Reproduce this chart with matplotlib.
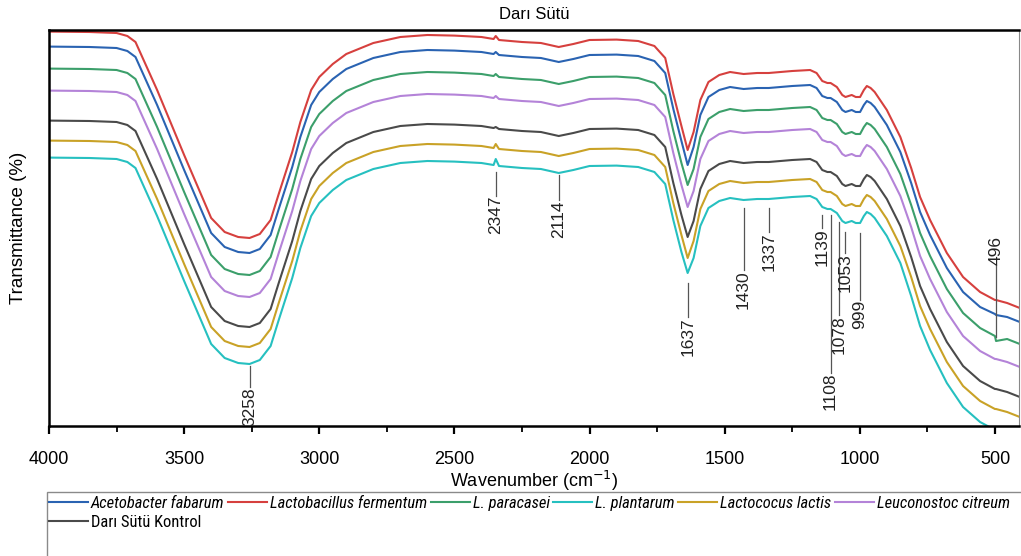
import matplotlib
matplotlib.use("Agg")
import matplotlib.pyplot as plt
from matplotlib import font_manager
from matplotlib.font_manager import FontProperties
from matplotlib.patches import Rectangle
from matplotlib.ticker import MultipleLocator

# FTIR spektrumları: dalga sayısı (cm-1) ve geçirgenlik (%, kaydırılmış)
wavenumber = [4000, 3850, 3750, 3710, 3680, 3600, 3500, 3400, 3350, 3300,
              3258, 3220, 3180, 3150, 3100, 3070, 3030, 3000, 2950, 2900,
              2800, 2700, 2600, 2500, 2400, 2355, 2347, 2335, 2250, 2180,
              2114, 2060, 2000, 1900, 1820, 1760, 1720, 1690, 1660, 1637,
              1615, 1590, 1560, 1520, 1480, 1430, 1380, 1337, 1250, 1184,
              1160, 1139, 1120, 1108, 1085, 1065, 1053, 1030, 1015, 999,
              985, 974, 960, 945, 900, 850, 810, 777, 740, 678,
              618, 555, 500, 496, 455, 408]

l_fermentum = [99.6, 99.5, 99.25, 98.5, 97, 85, 68.75, 53, 49.5, 48.25,
               48, 49, 52.5, 59, 69.5, 77, 85, 88.25, 91.5, 94,
               96.75, 98.25, 98.75, 98.6, 98.25, 97.75, 98.5, 97.5, 97, 96.75,
               95.75, 96.5, 97.5, 97.6, 97.25, 96, 93, 84, 76, 70,
               74.5, 82.5, 87, 88.75, 89.5, 89, 89.25, 89.25, 89.75, 90,
               89.25, 87.25, 86.75, 86.75, 85.75, 83.75, 83.25, 83.75, 83.25, 83.25,
               85, 86, 85.5, 84.5, 80, 73.25, 65.5, 58.25, 52.5, 44.25,
               38.25, 34.5, 32.5, 32.5, 31.75, 30.5]

a_fabarum = [95.85, 95.75, 95.5, 94.75, 93.25, 81.25, 65, 49.25, 45.75, 44.5,
             44.25, 45.25, 48.75, 55.25, 65.75, 73.25, 81.25, 84.5, 87.75, 90.25,
             93, 94.5, 95, 94.85, 94.5, 94, 94.5, 93.75, 93.25, 93,
             92, 92.75, 93.75, 93.85, 93.5, 92.25, 89.25, 80.25, 72.25, 66.25,
             70.75, 78.75, 83.25, 85, 85.75, 85.25, 85.5, 85.5, 86, 86.25,
             85.5, 83.5, 83, 83, 82, 80, 79.5, 80, 79.5, 79.5,
             81.25, 82.25, 81.75, 80.75, 76.25, 69.5, 61.75, 54.5, 48.75, 40.5,
             34.5, 30.75, 29, 28.75, 28.25, 27]

l_paracasei = [90.35, 90.25, 90, 89.25, 87.75, 75.75, 59.5, 43.75, 40.25, 39,
               38.75, 39.75, 43.25, 49.75, 60.25, 67.75, 75.75, 79, 82.25, 84.75,
               87.5, 89, 89.5, 89.35, 89, 88.5, 89, 88.25, 87.75, 87.5,
               86.5, 87.25, 88.25, 88.35, 88, 86.75, 83.75, 74.75, 66.75, 61.25,
               65.25, 73.25, 77.75, 79.5, 80.25, 79.75, 80, 80, 80.5, 80.75,
               80, 78, 77.5, 77.5, 76.5, 74.5, 74, 74.5, 74, 74,
               75.75, 76.75, 76.25, 75.25, 70.75, 64, 56.25, 49.25, 43.5, 35.25,
               29.25, 25.5, 23.5, 22.25, 22.75, 21.5]

l_citreum = [84.85, 84.75, 84.5, 83.75, 82.25, 70.25, 54, 38.25, 34.75, 33.5,
             33.25, 34.25, 37.75, 44.25, 54.75, 62.25, 70.25, 73.5, 76.75, 79.25,
             82, 83.5, 84, 83.85, 83.5, 83, 83.5, 82.75, 82.25, 82,
             81, 81.75, 82.75, 82.85, 82.5, 81.25, 78.25, 69.25, 61.25, 55.75,
             59.75, 67.75, 72.25, 74, 74.75, 74.25, 74.5, 74.5, 75, 75.25,
             74.5, 72.5, 72, 72, 71, 69, 68.5, 69, 68.5, 68.5,
             70.25, 71.25, 70.75, 69.75, 65.25, 58.5, 50.75, 43.5, 37.75, 29.5,
             23.5, 19.75, 17.75, 17.75, 17, 15.75]

kontrol = [77.35, 77.25, 77, 76.25, 74.75, 62.75, 46.5, 30.75, 27.25, 26,
           25.75, 26.75, 30.25, 36.75, 47.25, 54.75, 62.75, 66, 69.25, 71.75,
           74.5, 76, 76.5, 76.35, 76, 75.5, 75.75, 75.25, 74.75, 74.5,
           73.5, 74.25, 75.25, 75.35, 75, 73.75, 70.75, 61.75, 53.75, 48.25,
           52.25, 60.25, 64.75, 66.5, 67.25, 66.75, 67, 67, 67.5, 67.75,
           67, 65, 64.5, 64.5, 63.5, 61.5, 61, 61.5, 61, 61,
           62.75, 63.75, 63.25, 62.25, 57.75, 51, 43.25, 36, 30.25, 22,
           16, 12.25, 10.25, 10.25, 9.5, 8.25]

l_lactis = [72.35, 72.25, 72, 71.25, 69.75, 57.75, 41.5, 25.75, 22.25, 21,
            20.75, 21.75, 25.25, 31.75, 42.25, 49.75, 57.75, 61, 64.25, 66.75,
            69.5, 71, 71.5, 71.35, 71, 70.5, 71.5, 70.25, 69.75, 69.5,
            68.5, 69.25, 70.25, 70.35, 70, 68.75, 65.75, 56.75, 48.75, 43,
            47.25, 55.25, 59.75, 61.5, 62.25, 61.75, 62, 62, 62.5, 62.75,
            62, 60, 59.5, 59.5, 58.5, 56.5, 56, 56.5, 56, 56,
            57.75, 58.75, 58.25, 57.25, 52.75, 46, 38.25, 31, 25.25, 17,
            11, 7.25, 5.25, 5.25, 4.5, 3.25]

l_plantarum = [68.1, 68, 67.75, 67, 65.5, 53.5, 37.25, 21.5, 18, 16.75,
               16.5, 17.5, 21, 27.5, 38, 45.5, 53.5, 56.75, 60, 62.5,
               65.25, 66.75, 67.25, 67.1, 66.75, 66.25, 67.75, 66, 65.5, 65.25,
               64.25, 65, 66, 66.1, 65.75, 64.5, 61.5, 52.5, 44.5, 39.25,
               43, 51, 55.5, 57.25, 58, 57.5, 57.75, 57.75, 58.25, 58.5,
               57.75, 55.75, 55.25, 55.25, 54.25, 52.25, 51.75, 52.25, 51.75, 51.75,
               53.5, 54.5, 54, 53, 48.5, 41.75, 33.5, 26, 20, 11.75,
               5.75, 2, 0, 0, -0.75, -2]

# işaretlenen pikler
peaks = [3258, 2347, 2114, 1637, 1430, 1337, 1139, 1108, 1078, 1053, 999, 496]

W, H = 1021, 556
names = {f.name for f in font_manager.fontManager.ttflist}
plt.rcParams['font.family'] = ['Liberation Sans', 'DejaVu Sans']
narrow = [n for n in ('Liberation Sans Narrow', 'Roboto Condensed',
                      'Open Sans Condensed', 'DejaVu Sans Condensed') if n in names]
narrow = narrow + ['Liberation Sans', 'DejaVu Sans']

fig = plt.figure(figsize=(W / 100, H / 100), dpi=100)
ax = fig.add_axes([49 / W, 1 - 426 / H, (1019 - 49) / W, (426 - 30) / H])

series = [
    (a_fabarum, '#2a63b2', 'Acetobacter fabarum'),
    (l_fermentum, '#d6403e', 'Lactobacillus fermentum'),
    (l_paracasei, '#3c9f6b', 'L. paracasei'),
    (l_plantarum, '#26c0c0', 'L. plantarum'),
    (l_lactis, '#c9a227', 'Lactococus lactis'),
    (l_citreum, '#b483d8', 'Leuconostoc citreum'),
    (kontrol, '#4a4a4a', 'Darı Sütü Kontrol'),
]
lines = {}
for y, c, lab in series:
    lines[lab], = ax.plot(wavenumber, y, color=c, lw=1.5, label=lab)

# pik çizgileri ve etiketleri (çizgi başı, çizgi sonu)
leader = {3258: (16, 10.75), 2347: (64.5, 58.5), 2114: (63.75, 57.5),
          1637: (36.75, 28.25), 1430: (55.5, 40), 1337: (55.5, 49.5),
          1139: (53.75, 50.5), 1108: (53.75, 14.25), 1078: (52, 28.75),
          1053: (49.5, 44.25), 999: (49.25, 32.5), 496: (23.25, 41.25)}
for p in peaks:
    y0, y1 = leader[p]
    ax.plot([p, p], [y0, y1], color='#555555', lw=0.9)
    va = 'bottom' if y1 > y0 else 'top'
    ax.text(p, y1, str(p), rotation=90, ha='center', va=va,
            fontsize=12.5, color='#222222')

ax.set_xlim(4000, 411)
ax.set_ylim(1, 100)
ax.set_yticks([])
ax.xaxis.set_major_locator(MultipleLocator(500))
ax.xaxis.set_minor_locator(MultipleLocator(250))
ax.tick_params(axis='x', which='major', direction='out', length=6, width=1.6,
               labelsize=13, pad=12)
ax.tick_params(axis='x', which='minor', direction='out', length=4, width=1.3)
for s in ['left', 'bottom', 'top']:
    ax.spines[s].set_linewidth(1.8)
ax.spines['right'].set_linewidth(0.8)
ax.spines['right'].set_color('#888888')

ax.set_xlabel('Wavenumber (cm$^{-1}$)', fontsize=13, labelpad=1)
ax.set_ylabel('Transmittance (%)', fontsize=13.5, labelpad=16)
ax.set_title('Darı Sütü', fontsize=12, pad=8)

# lejant: sütun sırası 6 sütunlu yerleşime göre
order = ['Acetobacter fabarum', 'Darı Sütü Kontrol', 'Lactobacillus fermentum',
         'L. paracasei', 'L. plantarum', 'Lactococus lactis', 'Leuconostoc citreum']
first_row = [k for k in order if k != 'Darı Sütü Kontrol']

# yazı boyunu, ilk satırdaki etiketlerin toplam genişliği ~695 px olacak şekilde seç
renderer = fig.canvas.get_renderer()
probe = FontProperties(family=narrow, style='italic', stretch='condensed', size=10)
tw = sum(renderer.get_text_width_height_descent(k, probe, ismath=False)[0]
         for k in first_row)
fs = min(13.0, 10 * 695 / tw)
fs_px = fs * 100 / 72

leg = fig.legend([lines[k] for k in order], order, loc='upper left',
                 bbox_to_anchor=(49 / W, 1 - (503 - 0.42 * fs_px) / H), ncol=6,
                 frameon=False, handlelength=39 / fs_px, handletextpad=3 / fs_px,
                 columnspacing=3.5 / fs_px, borderaxespad=0, borderpad=0,
                 labelspacing=0.24,
                 prop={'family': narrow, 'size': fs, 'stretch': 'condensed'})
for t in leg.get_texts():
    if t.get_text() != 'Darı Sütü Kontrol':
        t.set_style('italic')
fig.patches.append(Rectangle((47 / W, -0.05), 1.0, 0.05 + 1 - 492 / H,
                             transform=fig.transFigure, fill=False,
                             edgecolor='#8a8a8a', lw=1.0))

fig.savefig('out.png', dpi=100)
